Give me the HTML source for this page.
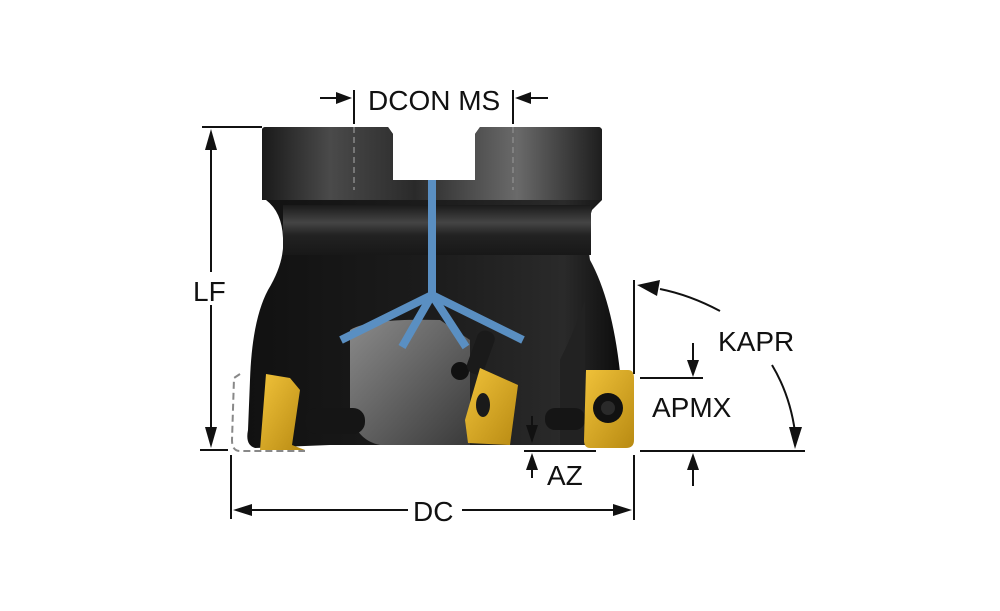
<!DOCTYPE html>
<html><head><style>
html,body{margin:0;padding:0;background:#fff;}
svg{display:block}
text{font-family:"Liberation Sans",sans-serif;fill:#111;}
</style></head><body>
<svg width="1000" height="611" viewBox="0 0 1000 611" xmlns="http://www.w3.org/2000/svg">
<defs>
<linearGradient id="top" x1="0" x2="1" y1="0" y2="0">
<stop offset="0" stop-color="#1a1a1a"/><stop offset="0.2" stop-color="#4a4a4a"/><stop offset="0.45" stop-color="#2a2a2a"/><stop offset="0.75" stop-color="#6a6a6a"/><stop offset="1" stop-color="#1e1e1e"/>
</linearGradient>
<linearGradient id="body" x1="0" x2="1" y1="0" y2="0">
<stop offset="0" stop-color="#111"/><stop offset="0.5" stop-color="#1c1c1c"/><stop offset="0.85" stop-color="#2a2a2a"/><stop offset="1" stop-color="#0d0d0d"/>
</linearGradient>
<linearGradient id="neck" x1="0" x2="0" y1="0" y2="1">
<stop offset="0" stop-color="#1a1a1a"/><stop offset="0.35" stop-color="#454545"/><stop offset="0.6" stop-color="#222"/><stop offset="1" stop-color="#181818"/>
</linearGradient>
<linearGradient id="pocket" x1="0" x2="1" y1="0" y2="1">
<stop offset="0" stop-color="#8a8a8a"/><stop offset="1" stop-color="#3a3a3a"/>
</linearGradient>
<linearGradient id="gold" x1="0" x2="1" y1="0" y2="1">
<stop offset="0" stop-color="#f0c23a"/><stop offset="1" stop-color="#b88a12"/>
</linearGradient>
</defs>

<path d="M262,130 Q262,127 266,127 L388,127 L393,134 L393,180 L475,180 L475,134 L480,127 L598,127 Q602,127 602,131 L602,200 L592,210 Q585,230 590,260 Q612,300 620,372 L585,372 L585,445 L330,445 L255,448 Q245,445 248,430 L250,380 Q252,320 268,290 Q285,262 283,238 Q282,212 266,200 L262,198 Z" fill="url(#body)"/>
<path d="M262,130 Q262,127 266,127 L388,127 L393,134 L393,180 L475,180 L475,134 L480,127 L598,127 Q602,127 602,131 L602,200 L262,200 Z" fill="url(#top)"/>
<rect x="283" y="205" width="308" height="50" fill="url(#neck)"/>
<!-- pocket -->
<path d="M350,330 Q370,318 440,320 L470,340 L470,445 L380,445 Q355,440 350,410 Z" fill="url(#pocket)"/>
<path d="M560,445 L600,445 L600,370 L585,372 L585,300 Q575,330 560,360 Z" fill="#222"/>
<ellipse cx="460" cy="371" rx="9" ry="9" fill="#111"/>
<rect x="305" y="408" width="60" height="26" rx="12" fill="#151515"/>
<rect x="545" y="408" width="40" height="22" rx="10" fill="#151515"/>
<rect x="472" y="330" width="18" height="45" rx="8" fill="#1a1a1a" transform="rotate(20 481 352)"/>
<!-- inserts -->
<path d="M266,374 L290,378 L300,390 L292,445 L305,450 L260,450 Z" fill="url(#gold)"/>
<path d="M480,368 L518,385 L510,445 L468,443 L465,420 Z" fill="url(#gold)"/>
<ellipse cx="483" cy="405" rx="7" ry="12" fill="#1a1a1a"/>
<path d="M586,370 L628,370 Q634,370 634,378 L634,440 Q634,448 626,448 L590,448 Q584,448 584,440 Z" fill="url(#gold)"/>
<circle cx="608" cy="408" r="15" fill="#111"/>
<circle cx="608" cy="408" r="7" fill="#2a2a2a"/>
<path d="M240,374 L234,378 L232,440 Q232,451 240,451 L305,451" fill="none" stroke="#888" stroke-width="2" stroke-dasharray="7,4"/>
<g stroke="#5a8fc2" stroke-width="8" fill="none" stroke-linecap="butt">
<path d="M432,180 L432,295"/>
<path d="M432,295 L341,340"/>
<path d="M432,295 L402,347"/>
<path d="M432,295 L466,347"/>
<path d="M432,295 L523,340"/>
</g>
<line x1="354" y1="127" x2="354" y2="190" stroke="#888" stroke-width="1.5" stroke-dasharray="6,4"/>
<line x1="513" y1="127" x2="513" y2="190" stroke="#888" stroke-width="1.5" stroke-dasharray="6,4"/>

<g stroke="#111" stroke-width="2" fill="none">
<line x1="354" y1="90" x2="354" y2="124"/>
<line x1="513" y1="90" x2="513" y2="124"/>
<line x1="320" y1="98" x2="340" y2="98"/>
<line x1="528" y1="98" x2="548" y2="98"/>
<line x1="202" y1="127" x2="262" y2="127"/>
<line x1="200" y1="450" x2="228" y2="450"/>
<line x1="211" y1="145" x2="211" y2="272"/>
<line x1="211" y1="305" x2="211" y2="432"/>
<line x1="231" y1="455" x2="231" y2="519"/>
<line x1="634" y1="455" x2="634" y2="520"/>
<line x1="634" y1="280" x2="634" y2="374"/>
<line x1="248" y1="510" x2="408" y2="510"/>
<line x1="462" y1="510" x2="620" y2="510"/>
<line x1="640" y1="378" x2="703" y2="378"/>
<line x1="640" y1="451" x2="805" y2="451"/>
<line x1="693" y1="343" x2="693" y2="364"/>
<line x1="693" y1="486" x2="693" y2="465"/>
<path d="M720,311 Q690,295 660,289"/>
<path d="M772,365 Q790,395 795,432"/>
<line x1="524" y1="451" x2="596" y2="451"/>
<line x1="532" y1="416" x2="532" y2="430"/>
<line x1="532" y1="478" x2="532" y2="466"/>
</g>
<g fill="#111">
<polygon points="352,98 336,92 336,104"/>
<polygon points="515,98 531,92 531,104"/>
<polygon points="211,129 205,150 217,150"/>
<polygon points="211,448 205,427 217,427"/>
<polygon points="233,510 252,504 252,516"/>
<polygon points="632,510 613,504 613,516"/>
<polygon points="693,377 687,360 699,360"/>
<polygon points="693,453 687,470 699,470"/>
<polygon points="637,285 660,280 657,296"/>
<polygon points="795,449 789,427 802,427"/>
<polygon points="532,443 526,425 538,425"/>
<polygon points="532,453 526,470 538,470"/>
</g>
<text x="368" y="110" font-size="28">DCON MS</text>
<text x="193" y="301" font-size="28">LF</text>
<text x="413" y="521" font-size="28">DC</text>
<text x="718" y="351" font-size="28">KAPR</text>
<text x="652" y="417" font-size="28">APMX</text>
<text x="547" y="485" font-size="28">AZ</text>
</svg>
</body></html>
